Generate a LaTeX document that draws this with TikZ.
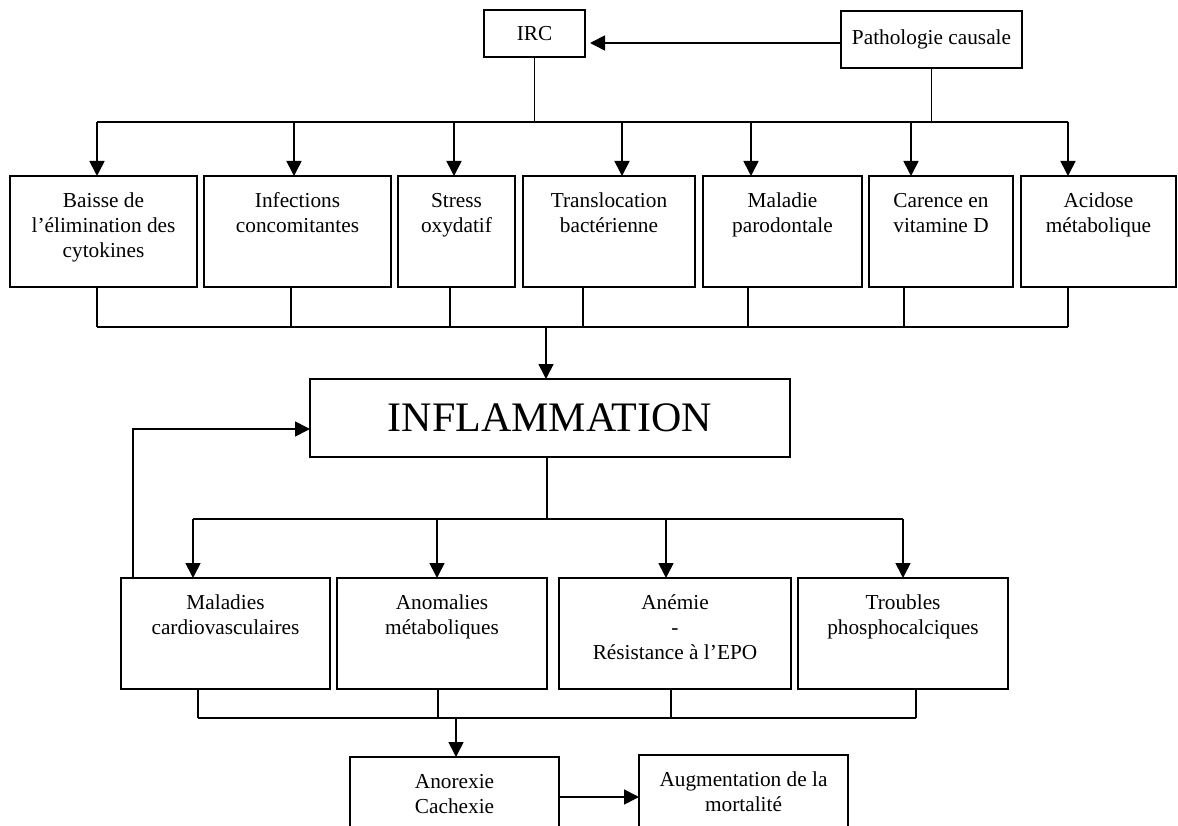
\documentclass[tikz,border=0pt]{standalone}
\usepackage{fontspec}
\setmainfont{Liberation Serif}
\usetikzlibrary{arrows.meta}
\newcommand\fs{\fontsize{21.3}{24.8}\selectfont}

\begin{document}
\begin{tikzpicture}[x=1pt,y=-1pt,line width=1.7pt,
  boite/.style={draw,anchor=north west,inner sep=0pt,outer sep=0pt,font=\fs},
  txt/.style={anchor=north,align=center,inner sep=0pt,font=\fs,yshift=-13.6pt},
  fl/.style={-{Triangle[length=15pt,width=15pt]}}]
  \useasboundingbox (0,0) rectangle (1178,826);
  \clip (0,0) rectangle (1178,826);

  % en haut
  \node[boite,minimum width=101pt,minimum height=47pt] (irc) at (484,10) {IRC};
  \node[boite,minimum width=181pt,minimum height=57pt] (patho) at (841,11) {Pathologie causale};
  \draw[fl] (patho.west |- 0,43) -- (590,43);

  % causes
  \node[boite,minimum width=187pt,minimum height=111pt] (baisse) at (10,176) {};
  \node[txt] at (baisse.north) {\strut Baisse de\\l’élimination des\\cytokines};
  \node[boite,minimum width=187pt,minimum height=111pt] (infect) at (204,176) {};
  \node[txt] at (infect.north) {\strut Infections\\concomitantes};
  \node[boite,minimum width=117pt,minimum height=111pt] (stress) at (398,176) {};
  \node[txt] at (stress.north) {\strut Stress\\oxydatif};
  \node[boite,minimum width=172pt,minimum height=111pt] (transl) at (523,176) {};
  \node[txt] at (transl.north) {\strut Translocation\\bactérienne};
  \node[boite,minimum width=159pt,minimum height=111pt] (parod) at (703,176) {};
  \node[txt] at (parod.north) {\strut Maladie\\parodontale};
  \node[boite,minimum width=144pt,minimum height=111pt] (carence) at (869,176) {};
  \node[txt] at (carence.north) {\strut Carence en\\vitamine D};
  \node[boite,minimum width=155pt,minimum height=111pt] (acidose) at (1021,176) {};
  \node[txt] at (acidose.north) {\strut Acidose\\métabolique};

  \draw (irc.south) -- (irc.south |- 0,122);
  \draw (patho.south) -- (patho.south |- 0,122);
  \draw (97,122) -- (1068,122);
  \foreach \x/\n in {97/baisse,294/infect,454/stress,622/transl,751/parod,911/carence,1068/acidose}
    \draw[fl] (\x,122) -- (\x,0 |- \n.north);
  \foreach \x/\n in {97/baisse,291/infect,450/stress,583/transl,748/parod,904/carence,1068/acidose}
    \draw (\x,0 |- \n.south) -- (\x,327);
  \draw (97,327) -- (1068,327);

  % inflammation
  \node[boite,minimum width=480pt,minimum height=78pt,font=\fontsize{42}{48}\selectfont] (inflam) at (310,379) {INFLAMMATION};
  \draw[fl] (546,327) -- (546,0 |- inflam.north);

  % consequences
  \node[boite,minimum width=209pt,minimum height=111pt] (cardio) at (121,578) {};
  \node[txt] at (cardio.north) {\strut Maladies\\cardiovasculaires};
  \node[boite,minimum width=210pt,minimum height=111pt] (anomal) at (337,578) {};
  \node[txt] at (anomal.north) {\strut Anomalies\\métaboliques};
  \node[boite,minimum width=232pt,minimum height=111pt] (anemie) at (559,578) {};
  \node[txt] at (anemie.north) {\strut Anémie\\-\\Résistance à l’EPO};
  \node[boite,minimum width=210pt,minimum height=111pt] (troubles) at (798,578) {};
  \node[txt] at (troubles.north) {\strut Troubles\\phosphocalciques};

  \draw (547,0 |- inflam.south) -- (547,519);
  \draw (193,519) -- (903,519);
  \foreach \x/\n in {193/cardio,437/anomal,666/anemie,903/troubles}
    \draw[fl] (\x,519) -- (\x,0 |- \n.north);
  \draw[fl] (133,0 |- cardio.north) -- (133,429) -- (inflam.west |- 0,429);
  \foreach \x/\n in {198/cardio,438/anomal,671/anemie,916/troubles}
    \draw (\x,0 |- \n.south) -- (\x,718);
  \draw (198,718) -- (916,718);

  % en bas
  \node[boite,minimum width=209pt,minimum height=111pt] (anorex) at (350,757) {};
  \node[txt] at (anorex.north) {\strut Anorexie\\Cachexie};
  \node[boite,minimum width=209pt,minimum height=111pt] (augment) at (639,755) {};
  \node[txt] at (augment.north) {\strut Augmentation de la\\mortalité};
  \draw[fl] (456,718) -- (456,0 |- anorex.north);
  \draw[fl] (anorex.east |- 0,797) -- (augment.west |- 0,797);
\end{tikzpicture}
\end{document}
